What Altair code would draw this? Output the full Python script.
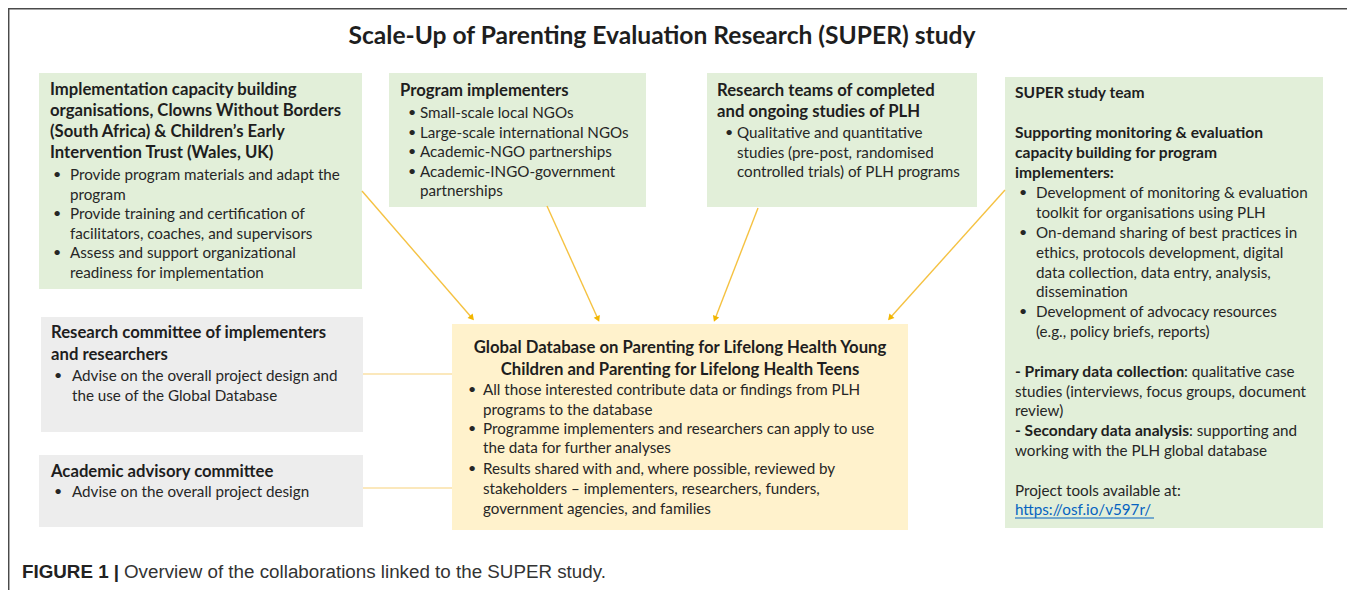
import math
import altair as alt
import pandas as pd

# ---------------- layout / data ----------------
W, H = 1339, 582          # plot area (page has 8px margin)
X_DOM = [8, 8 + W]
Y_DOM = [8, 8 + H]

FONT = "Lato"
TXT = "#262626"
BODY_FS = 15.2
HEAD_FS = 16.7
SUPER_HEAD_FS = 15.6

title_text = "Scale-Up of Parenting Evaluation Research (SUPER) study"
caption_bold = "FIGURE 1 |"
caption_rest = "Overview of the collaborations linked to the SUPER study."

# boxes
box_names = ["impl", "prog", "research", "super", "rescomm", "academic", "global"]
box_x0 = [39, 389, 707, 1005, 41, 39, 452]
box_x1 = [362, 646, 977, 1323, 363, 363, 908]
box_y0 = [73, 73, 73, 77, 317, 455, 324]
box_y1 = [289, 207, 207, 528, 432, 527, 530]
box_fill = ["#e2efd9", "#e2efd9", "#e2efd9", "#e2efd9", "#ededed", "#ededed", "#fff2cc"]

# text rows per box: (kind, text, y)   kind: h=bold heading, b=bullet, c=continuation, p=plain
rows_impl = [
    ("h", "Implementation capacity building", 90),
    ("h", "organisations, Clowns Without Borders", 111),
    ("h", "(South Africa) & Children’s Early", 132),
    ("h", "Intervention Trust (Wales, UK)", 153),
    ("b", "Provide program materials and adapt the", 175),
    ("c", "program", 195),
    ("b", "Provide training and certification of", 214),
    ("c", "facilitators, coaches, and supervisors", 234),
    ("b", "Assess and support organizational", 253),
    ("c", "readiness for implementation", 273),
]
rows_prog = [
    ("h", "Program implementers", 91),
    ("b", "Small-scale local NGOs", 113),
    ("b", "Large-scale international NGOs", 133),
    ("b", "Academic-NGO partnerships", 152),
    ("b", "Academic-INGO-government", 172),
    ("c", "partnerships", 191),
]
rows_research = [
    ("h", "Research teams of completed", 91),
    ("h", "and ongoing studies of PLH", 112),
    ("b", "Qualitative and quantitative", 133),
    ("c", "studies (pre-post, randomised", 153),
    ("c", "controlled trials) of PLH programs", 172),
]
rows_super = [
    ("s", "SUPER study team", 93),
    ("s", "Supporting monitoring & evaluation", 133),
    ("s", "capacity building for program", 153),
    ("s", "implementers:", 173),
    ("b", "Development of monitoring & evaluation", 193),
    ("c", "toolkit for organisations using PLH", 213),
    ("b", "On-demand sharing of best practices in", 233),
    ("c", "ethics, protocols development, digital", 253),
    ("c", "data collection, data entry, analysis,", 273),
    ("c", "dissemination", 292),
    ("b", "Development of advocacy resources", 312),
    ("c", "(e.g., policy briefs, reports)", 332),
    ("s", "- Primary data collection", 372),
    ("p", "studies (interviews, focus groups, document", 392),
    ("p", "review)", 411),
    ("s", "- Secondary data analysis", 431),
    ("p", "working with the PLH global database", 451),
    ("p", "Project tools available at:", 491),
]
rows_rescomm = [
    ("h", "Research committee of implementers", 333),
    ("h", "and researchers", 355),
    ("b", "Advise on the overall project design and", 376),
    ("c", "the use of the Global Database", 396),
]
rows_academic = [
    ("h", "Academic advisory committee", 472),
    ("b", "Advise on the overall project design", 492),
]
rows_global = [
    ("b", "All those interested contribute data or findings from PLH", 390),
    ("c", "programs to the database", 410),
    ("b", "Programme implementers and researchers can apply to use", 429),
    ("c", "the data for further analyses", 448),
    ("b", "Results shared with and, where possible, reviewed by", 469),
    ("c", "stakeholders – implementers, researchers, funders,", 489),
    ("c", "government agencies, and families", 509),
]
global_heading = ["Global Database on Parenting for Lifelong Health Young",
                  "Children and Parenting for Lifelong Health Teens"]
global_heading_y = [348, 370]
global_heading_x = 680

# inline continuations after a bold run (x, y, text)
mixed_x = [1184, 1189]
mixed_y = [372, 431]
mixed_text = [": qualitative case", ": supporting and"]

link_text = "https://osf.io/v597r/"
link_xy = (1015, 510)
link_x2 = 1154

# (heading x, bullet dot x, bullet text x) per box
indents = {
    "impl": (50, 53, 70),
    "prog": (400, 408, 420),
    "research": (717, 725, 737),
    "super": (1015, 1019, 1036),
    "rescomm": (51, 54, 72),
    "academic": (51, 54, 72),
    "global": (0, 468, 483),
}
box_rows = {
    "impl": rows_impl, "prog": rows_prog, "research": rows_research,
    "super": rows_super, "rescomm": rows_rescomm, "academic": rows_academic,
    "global": rows_global,
}

# arrows (start -> end) and plain connectors
arrow_x0 = [362, 547, 758, 1005]
arrow_y0 = [191, 206, 208, 190]
arrow_x1 = [472, 598, 715, 890]
arrow_y1 = [318, 319, 319, 318]

conn_x0 = [363, 363]
conn_x1 = [452, 452]
conn_y = [374, 488]

# ---------------- build tables ----------------
xs = alt.Scale(domain=X_DOM)
ys = alt.Scale(domain=Y_DOM, reverse=True)
X = lambda f: alt.X(f, type="quantitative", scale=xs, axis=None)
Y = lambda f: alt.Y(f, type="quantitative", scale=ys, axis=None)

boxes = pd.DataFrame(dict(name=box_names, x0=box_x0, x1=box_x1, y0=box_y0, y1=box_y1, fill=box_fill))

bold_rows, sbold_rows, reg_rows, dot_rows = [], [], [], []
for name, rows in box_rows.items():
    hx, dx, tx = indents[name]
    for kind, text, y in rows:
        if kind == "h":
            bold_rows.append(dict(x=hx, y=y, t=text))
        elif kind == "s":
            sbold_rows.append(dict(x=hx, y=y, t=text))
        elif kind == "p":
            reg_rows.append(dict(x=hx, y=y, t=text))
        elif kind == "b":
            dot_rows.append(dict(x=dx, y=y, t="•"))
            reg_rows.append(dict(x=tx, y=y, t=text))
        else:
            reg_rows.append(dict(x=tx, y=y, t=text))
for x, y, t in zip(mixed_x, mixed_y, mixed_text):
    reg_rows.append(dict(x=x, y=y, t=t))

bold_df = pd.DataFrame(bold_rows)
sbold_df = pd.DataFrame(sbold_rows)
reg_df = pd.DataFrame(reg_rows)
dot_df = pd.DataFrame(dot_rows)
gh_df = pd.DataFrame(dict(x=[global_heading_x] * 2, y=global_heading_y, t=global_heading))

arrows = pd.DataFrame(dict(x0=arrow_x0, y0=arrow_y0, x1=arrow_x1, y1=arrow_y1))
arrows["ang"] = [(math.degrees(math.atan2(a - b, -(c - d))) % 360)
                 for a, b, c, d in zip(arrows.x1, arrows.x0, arrows.y1, arrows.y0)]
conns = pd.DataFrame(dict(x0=conn_x0, x1=conn_x1, y=conn_y))

frame = pd.DataFrame(dict(x0=[6, 8.7], x1=[1355, 8.7], y0=[8.7, 8], y1=[8.7, 598]))

# ---------------- layers ----------------
rect = alt.Chart(boxes).mark_rect().encode(
    x=X("x0"), x2="x1", y=Y("y0"), y2="y1",
    color=alt.Color("fill:N", scale=None))

frame_l = alt.Chart(frame).mark_rule(color="#4a4a4a", strokeWidth=1.5).encode(
    x=X("x0"), x2="x1", y=Y("y0"), y2="y1")

arrow_l = alt.Chart(arrows).mark_rule(color="#f5c242", strokeWidth=1.4).encode(
    x=X("x0"), x2="x1", y=Y("y0"), y2="y1")
head_l = alt.Chart(arrows).mark_point(shape="triangle-up", filled=True, size=45,
                                      color="#f2b600", opacity=1).encode(
    x=X("x1"), y=Y("y1"), angle=alt.Angle("ang:Q", scale=None))
conn_l = alt.Chart(conns).mark_rule(color="#f7d27a", strokeWidth=1.2).encode(
    x=X("x0"), x2="x1", y=Y("y"))


def text_layer(df, size, weight="normal", align="left", color=TXT, font=FONT):
    return alt.Chart(df).mark_text(font=font, fontSize=size, fontWeight=weight, align=align,
                                   baseline="middle", color=color).encode(
        x=X("x"), y=Y("y"), text="t:N")


bold_l = text_layer(bold_df, HEAD_FS, "bold", color="#1e1e1e")
sbold_l = text_layer(sbold_df, SUPER_HEAD_FS, "bold", color="#1e1e1e")
reg_l = text_layer(reg_df, BODY_FS)
dot_l = text_layer(dot_df, BODY_FS - 1)
gh_l = text_layer(gh_df, HEAD_FS, "bold", align="center", color="#1e1e1e")

link_df = pd.DataFrame(dict(x=[link_xy[0]], x2=[link_x2], y=[link_xy[1]], t=[link_text]))
link_l = text_layer(link_df, BODY_FS, color="#0563c1")
link_df2 = link_df.assign(yu=link_df.y + 8)
link_u = alt.Chart(link_df2).mark_rule(color="#0563c1", strokeWidth=1).encode(
    x=X("x"), x2="x2", y=Y("yu"))

title_df = pd.DataFrame(dict(x=[662], y=[37], t=[title_text]))
title_l = text_layer(title_df, 24.6, "bold", align="center", color="#1e1e1e")

cap_b_df = pd.DataFrame(dict(x=[22], y=[572], t=[caption_bold]))
cap_r_df = pd.DataFrame(dict(x=[124], y=[572], t=[caption_rest]))
cap_b = text_layer(cap_b_df, 18.8, "bold", color="#222222", font="Liberation Sans")
cap_r = text_layer(cap_r_df, 18.8, color="#333333", font="Liberation Sans")

chart = alt.layer(
    rect, frame_l, conn_l, arrow_l, head_l, bold_l, sbold_l, reg_l, dot_l, gh_l,
    link_l, link_u, title_l, cap_b, cap_r
).properties(width=W, height=H, padding=0,
             autosize=alt.AutoSizeParams(type="none")
).configure_view(stroke=None).configure(background="white")

chart.save("out.html", embed_options={"renderer": "svg", "actions": False})
